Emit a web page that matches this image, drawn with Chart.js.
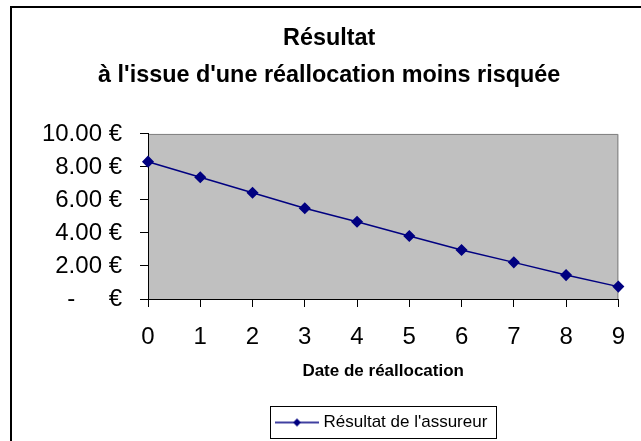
<!DOCTYPE html>
<html>
<head>
<meta charset="utf-8">
<script src="https://cdn.jsdelivr.net/npm/chart.js@4/dist/chart.umd.min.js"></script>
<style>
  html, body { margin: 0; padding: 0; background: #fff; }
  #wrap { width: 641px; height: 441px; }
</style>
</head>
<body>
<div id="wrap"><canvas id="resultChart" width="641" height="441"></canvas></div>
<script>
// data
const dates = [0, 1, 2, 3, 4, 5, 6, 7, 8, 9];
const resultats = [8.32, 7.38, 6.44, 5.50, 4.68, 3.82, 2.97, 2.22, 1.45, 0.75];
const yTicks = [0, 2, 4, 6, 8, 10];
const titleLines = ['Résultat', "à l'issue d'une réallocation moins risquée"];
const xTitle = 'Date de réallocation';
const seriesLabel = "Résultat de l'assureur";

const NAVY = '#000080';
const FONT = "'Liberation Sans', Arial, sans-serif";

// legend symbol: short line with a diamond in the middle
function legendSymbol() {
  const c = document.createElement('canvas');
  c.width = 44; c.height = 12;
  const g = c.getContext('2d');
  g.strokeStyle = NAVY; g.lineWidth = 1.5;
  g.beginPath(); g.moveTo(0, 6); g.lineTo(44, 6); g.stroke();
  g.fillStyle = NAVY;
  g.beginPath(); g.moveTo(22, 2); g.lineTo(26, 6); g.lineTo(22, 10); g.lineTo(18, 6); g.closePath(); g.fill();
  return c;
}

const frame = {
  id: 'frame',
  afterLayout(chart) {
    // Excel centres the title a bit right of the canvas, and the legend on the plot area
    const a = chart.chartArea;
    chart.titleBlock.left = 40;
    chart.titleBlock.right = a.right;
    chart.legend.left = a.left;
    chart.legend.right = a.right;
  },
  beforeDraw(chart) {
    const ctx = chart.ctx;
    const a = chart.chartArea;
    ctx.save();
    ctx.fillStyle = '#fff';
    ctx.fillRect(0, 0, chart.width, chart.height);
    // outer frame (only left and top are visible in the picture)
    ctx.fillStyle = '#000';
    ctx.fillRect(10, 6, chart.width - 10, 2);
    ctx.fillRect(10, 6, 2, chart.height - 6);
    // plot area
    ctx.fillStyle = '#c0c0c0';
    ctx.fillRect(a.left, a.top, a.right - a.left, a.bottom - a.top);
    ctx.strokeStyle = '#808080';
    ctx.lineWidth = 1;
    ctx.beginPath();
    ctx.moveTo(a.left, a.top + 0.5);
    ctx.lineTo(a.right - 0.5, a.top + 0.5);
    ctx.lineTo(a.right - 0.5, a.bottom);
    ctx.stroke();
    ctx.restore();
  },
  afterDraw(chart) {
    const box = chart.legend.legendHitBoxes[0];
    if (!box) return;
    const ctx = chart.ctx;
    ctx.save();
    ctx.strokeStyle = '#000';
    ctx.lineWidth = 1;
    const cy = box.top + box.height / 2;
    ctx.strokeRect(Math.round(box.left) - 8.5, Math.round(cy) - 16.5, Math.round(box.width) + 18, 32);
    ctx.restore();
  }
};

new Chart(document.getElementById('resultChart'), {
  type: 'line',
  data: {
    labels: dates,
    datasets: [{
      label: seriesLabel,
      data: resultats,
      borderColor: NAVY,
      backgroundColor: NAVY,
      borderWidth: 1.5,
      pointStyle: 'rectRot',
      pointRadius: 5,
      pointHoverRadius: 5,
      pointBackgroundColor: NAVY,
      pointBorderColor: NAVY,
      tension: 0,
      clip: false
    }]
  },
  options: {
    responsive: false,
    animation: false,
    devicePixelRatio: 1,
    layout: { padding: { left: 0, right: 19, top: 0, bottom: 0 } },
    plugins: {
      title: {
        display: true,
        text: titleLines,
        color: '#000',
        font: { family: FONT, size: 23.4, weight: 'bold', lineHeight: 1.58 },
        padding: { top: 20.5, bottom: 39.5 }
      },
      legend: {
        position: 'bottom',
        labels: {
          color: '#000',
          font: { family: FONT, size: 17 },
          usePointStyle: true,
          pointStyleWidth: 36,
          padding: 10,
          generateLabels: (chart) => [{
            text: seriesLabel,
            pointStyle: legendSymbol(),
            fillStyle: NAVY,
            strokeStyle: NAVY,
            lineWidth: 0,
            datasetIndex: 0
          }]
        }
      },
      tooltip: { enabled: false }
    },
    scales: {
      x: {
        type: 'category',
        offset: false,
        grid: { display: true, drawOnChartArea: false, tickLength: 8, color: '#000' },
        border: { color: '#000', width: 1 },
        ticks: { color: '#000', font: { family: FONT, size: 24 }, padding: 16, maxRotation: 0, autoSkip: false },
        title: {
          display: true,
          text: xTitle,
          color: '#000',
          font: { family: FONT, size: 17, weight: 'bold' },
          padding: { top: 0, bottom: 22 }
        },
        afterFit: (s) => { s.height = 105; }
      },
      y: {
        min: 0,
        max: 10,
        afterBuildTicks: (s) => { s.ticks = yTicks.map(v => ({ value: v })); },
        grid: { display: true, drawOnChartArea: false, tickLength: 8, color: '#000' },
        border: { color: '#000', width: 1 },
        ticks: {
          color: '#000',
          font: { family: FONT, size: 24 },
          padding: 18,
          callback: (v) => v === 0 ? '-' + '\u00a0'.repeat(5) + '€' : v.toFixed(2) + ' €'
        },
        afterFit: (s) => { s.width = 148; }
      }
    }
  },
  plugins: [frame]
});
</script>
</body>
</html>
